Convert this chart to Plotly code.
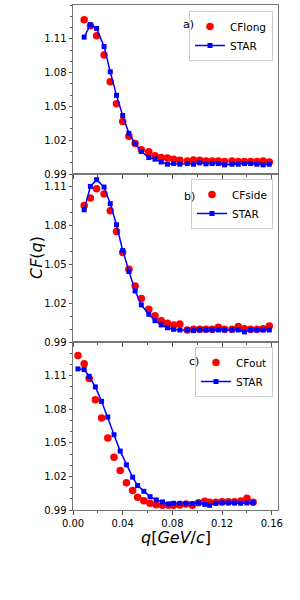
import plotly.graph_objects as go

# ---- data ----
q_ls = [0.009, 0.014, 0.019, 0.025, 0.030, 0.035, 0.040, 0.045, 0.050, 0.055,
        0.061, 0.066, 0.071, 0.076, 0.081, 0.086, 0.092, 0.097, 0.102, 0.107,
        0.112, 0.117, 0.122, 0.128, 0.133, 0.138, 0.143, 0.148, 0.153, 0.158]
cf_long = [1.1270, 1.1216, 1.1127, 1.0957, 1.0718, 1.0524, 1.0366, 1.0234, 1.0171, 1.0115,
           1.0097, 1.0061, 1.0046, 1.0041, 1.0032, 1.0023, 1.0016, 1.0025, 1.0023, 1.0016,
           1.0016, 1.0016, 1.0010, 1.0016, 1.0010, 1.0010, 1.0010, 1.0010, 1.0016, 1.0007]
star_long = [1.1115, 1.1225, 1.1192, 1.1031, 1.0807, 1.0598, 1.0419, 1.0261, 1.0171, 1.0100,
             1.0046, 1.0032, 1.0007, 0.9987, 0.9994, 0.9987, 0.9993, 0.9987, 0.9999, 0.9990,
             0.9993, 0.9993, 0.9981, 0.9987, 0.9987, 0.9993, 0.9993, 0.9987, 0.9981, 0.9987]
cf_side = [1.0956, 1.1014, 1.1086, 1.1045, 1.0915, 1.0755, 1.0592, 1.0463, 1.0334, 1.0236,
           1.0153, 1.0104, 1.0065, 1.0045, 1.0032, 1.0040, 0.9993, 0.9998, 0.9998, 0.9998,
           0.9998, 1.0014, 0.9998, 0.9998, 1.0019, 1.0003, 0.9998, 0.9998, 1.0003, 1.0024]
star_side = [1.0923, 1.1104, 1.1156, 1.1099, 1.0970, 1.0807, 1.0608, 1.0445, 1.0295, 1.0187,
             1.0115, 1.0065, 1.0032, 1.0010, 0.9998, 0.9993, 0.9993, 0.9988, 0.9993, 0.9993,
             0.9993, 0.9993, 0.9993, 0.9993, 0.9993, 0.9978, 0.9993, 0.9993, 0.9993, 0.9993]
q_out = [0.004, 0.009, 0.013, 0.018, 0.023, 0.028, 0.033, 0.038, 0.043, 0.048,
         0.052, 0.057, 0.062, 0.067, 0.072, 0.077, 0.081, 0.086, 0.091, 0.096,
         0.101, 0.106, 0.110, 0.115, 0.120, 0.125, 0.130, 0.135, 0.140, 0.145]
cf_out = [1.1279, 1.1205, 1.1073, 1.0885, 1.0721, 1.0542, 1.0372, 1.0252, 1.0144, 1.0073,
          1.0014, 0.9983, 0.9960, 0.9947, 0.9942, 0.9942, 0.9942, 0.9945, 0.9954, 0.9942,
          0.9965, 0.9978, 0.9970, 0.9970, 0.9973, 0.9973, 0.9973, 0.9980, 1.0005, 0.9970]
star_out = [1.1160, 1.1154, 1.1094, 1.0999, 1.0870, 1.0730, 1.0572, 1.0426, 1.0303, 1.0193,
            1.0118, 1.0067, 1.0019, 0.9990, 0.9972, 0.9954, 0.9960, 0.9960, 0.9957, 0.9957,
            0.9963, 0.9950, 0.9942, 0.9960, 0.9963, 0.9963, 0.9963, 0.9960, 0.9963, 0.9966]

panels = [
    ("CFlong", q_ls, cf_long, q_ls, star_long, "a)", [0.99, 1.14]),
    ("CFside", q_ls, cf_side, q_ls, star_side, "b)", [0.99, 1.12]),
    ("CFout", q_out, cf_out, q_out, star_out, "c)", [0.99, 1.14]),
]
ytick_vals = [0.99, 1.02, 1.05, 1.08, 1.11]
xtick_vals = [0.00, 0.04, 0.08, 0.12, 0.16]

FONT = "DejaVu Sans"
W, H = 300, 600
x0, x1 = 73, 278
ybounds = [(5, 174), (174, 342), (342, 510)]
legend_tops = [11, 179, 347]
label_pos = [(188.5, 25), (189.5, 196), (194, 361)]

fig = go.Figure()
axis_common = dict(showline=True, linecolor="#777777", linewidth=1, mirror=True,
                   showgrid=False, zeroline=False, ticks="outside", tickcolor="#555555",
                   ticklen=3.5, tickwidth=1, automargin=False,
                   tickfont=dict(family=FONT, size=10, color="black"))

for i, (name, xr, yr, xs, ys, lab, yrng) in enumerate(panels):
    k = "" if i == 0 else str(i + 1)
    lg = "legend" if i == 0 else f"legend{i+1}"
    fig.add_trace(go.Scatter(x=xr, y=yr, mode="markers", name=name,
                             marker=dict(color="#ff0000", size=7.5, symbol="circle"),
                             xaxis="x" + k, yaxis="y" + k, legend=lg))
    fig.add_trace(go.Scatter(x=xs, y=ys, mode="lines+markers", name="STAR",
                             line=dict(color="#0000ff", width=1.5),
                             marker=dict(color="#0000ff", size=5, symbol="square"),
                             xaxis="x" + k, yaxis="y" + k, legend=lg))
    top, bot = ybounds[i]
    fig.update_layout(**{
        "xaxis" + k: dict(axis_common, domain=[x0 / W, x1 / W], range=[0, 0.165],
                          tickvals=xtick_vals, tickformat=".2f",
                          showticklabels=(i == 2),
                          minor=dict(dtick=0.02, tick0=0, ticks="outside", ticklen=2,
                                     tickcolor="#555555"),
                          anchor="y" + k,
                          **({} if i == 0 else {"matches": "x"})),
        "yaxis" + k: dict(axis_common, domain=[(H - bot) / H, (H - top) / H], range=yrng,
                          tickvals=ytick_vals, tickformat=".2f",
                          minor=dict(dtick=0.01, tick0=0.99, ticks="outside", ticklen=2,
                                     tickcolor="#555555"),
                          anchor="x" + k),
        lg: dict(x=273 / W, y=(H - legend_tops[i]) / H, xanchor="right", yanchor="top",
                 bordercolor="#cccccc", borderwidth=1, bgcolor="rgba(255,255,255,0.8)",
                 font=dict(family=FONT, size=10.5, color="black"),
                 tracegroupgap=0, itemwidth=30),
    })
    lx, ly = label_pos[i]
    fig.add_annotation(x=lx / W, y=(H - ly) / H, xref="paper", yref="paper", text=lab,
                       xanchor="center", yanchor="middle",
                       showarrow=False, font=dict(family=FONT, size=11, color="black"))

fig.add_annotation(x=36 / W, y=(H - 258) / H, xref="paper", yref="paper",
                   text="<i>CF</i>(<i>q</i>)", textangle=-90, showarrow=False,
                   xanchor="center", yanchor="middle",
                   font=dict(family=FONT, size=16, color="black"))
fig.add_annotation(x=176 / W, y=(H - 537) / H, xref="paper", yref="paper",
                   text="<i>q</i>[<i>GeV</i>/<i>c</i>]", showarrow=False,
                   xanchor="center", yanchor="middle",
                   font=dict(family=FONT, size=16, color="black"))

fig.update_layout(template="none", width=W, height=H, margin=dict(l=0, r=0, t=0, b=0),
                  paper_bgcolor="white", plot_bgcolor="white", showlegend=True)

fig.write_html("out.html", config={"displayModeBar": False},
               post_script="document.body.style.margin='0';")
